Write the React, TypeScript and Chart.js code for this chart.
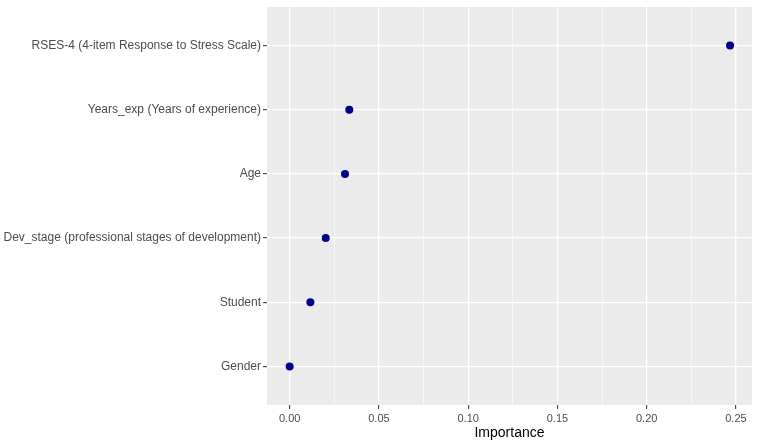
import React, { useEffect, useRef } from "react";
import { Chart, registerables } from "chart.js";

Chart.register(...registerables);

const categories = [
  "RSES-4 (4-item Response to Stress Scale)",
  "Years_exp (Years of experience)",
  "Age",
  "Dev_stage (professional stages of development)",
  "Student",
  "Gender",
];
const importance = [0.2467, 0.0334, 0.031, 0.0202, 0.0116, 0.0];
const xTicks = [0, 0.025, 0.05, 0.075, 0.1, 0.125, 0.15, 0.175, 0.2, 0.225, 0.25];
const xTitle = "Importance";

const panelBg = {
  id: "panelBg",
  beforeDraw(chart: any) {
    const { ctx, chartArea } = chart;
    ctx.save();
    ctx.fillStyle = "#EBEBEB";
    ctx.fillRect(chartArea.left, chartArea.top, chartArea.right - chartArea.left, chartArea.bottom - chartArea.top);
    ctx.restore();
  },
};

const isMajor = (v: number) => Math.abs(Math.round(v / 0.05) * 0.05 - v) < 1e-6;

export default function App() {
  const ref = useRef<HTMLCanvasElement | null>(null);
  useEffect(() => {
    document.body.style.margin = "0";
    const n = categories.length;
    const data = importance.map((v, i) => ({ x: v, y: n - i }));
    const chart = new Chart(ref.current as HTMLCanvasElement, {
      type: "scatter",
      data: {
        datasets: [
          {
            data,
            backgroundColor: "#00008B",
            borderColor: "#00008B",
            borderWidth: 0,
            pointRadius: 4,
          },
        ],
      },
      plugins: [panelBg],
      options: {
        responsive: false,
        animation: false,
        devicePixelRatio: 1,
        layout: { padding: { top: 7, right: 7, left: 0, bottom: 0 } },
        plugins: { legend: { display: false }, tooltip: { enabled: false } },
        scales: {
          x: {
            type: "linear",
            min: -0.0127,
            max: 0.259,
            afterBuildTicks: (scale: any) => {
              scale.ticks = xTicks.map((v) => ({ value: v }));
            },
            afterFit: (scale: any) => {
              scale.height = 41;
              scale.paddingLeft = 0;
              scale.paddingRight = 0;
            },
            border: { display: false },
            grid: {
              color: "#FFFFFF",
              lineWidth: (c: any) => (isMajor(c.tick?.value ?? 0) ? 1.3 : 0.6),
              tickColor: (c: any) => (isMajor(c.tick?.value ?? 0) ? "#333333" : "rgba(0,0,0,0)"),
              tickLength: 4,
              tickWidth: 1,
            },
            ticks: {
              autoSkip: false,
              maxRotation: 0,
              padding: 3,
              color: "#4D4D4D",
              font: { family: "'Liberation Sans', Arial, sans-serif", size: 11 },
              callback: (v: any) => (isMajor(Number(v)) ? Number(v).toFixed(2) : ""),
            },
            title: {
              display: true,
              text: xTitle,
              color: "#000000",
              font: { family: "'Liberation Sans', Arial, sans-serif", size: 14 },
              padding: { top: 0, bottom: 4 },
            },
          },
          y: {
            type: "linear",
            min: 0.4,
            max: 6.6,
            afterBuildTicks: (scale: any) => {
              scale.ticks = categories.map((_, i) => ({ value: n - i }));
            },
            afterFit: (scale: any) => {
              scale.width = 267;
              scale.paddingTop = 0;
              scale.paddingBottom = 0;
            },
            border: { display: false },
            grid: {
              color: "#FFFFFF",
              lineWidth: 1.3,
              tickColor: "#333333",
              tickLength: 4,
              tickWidth: 1,
            },
            ticks: {
              autoSkip: false,
              padding: 2,
              color: "#4D4D4D",
              font: { family: "'Liberation Sans', Arial, sans-serif", size: 12 },
              callback: (v: any) => categories[n - Math.round(Number(v))] ?? "",
            },
          },
        },
      },
    });
    return () => chart.destroy();
  }, []);
  return (
    <div style={{ position: "absolute", left: 0, top: 0, width: 759, height: 446, background: "#fff" }}>
      <canvas ref={ref} width={759} height={446} />
    </div>
  );
}
